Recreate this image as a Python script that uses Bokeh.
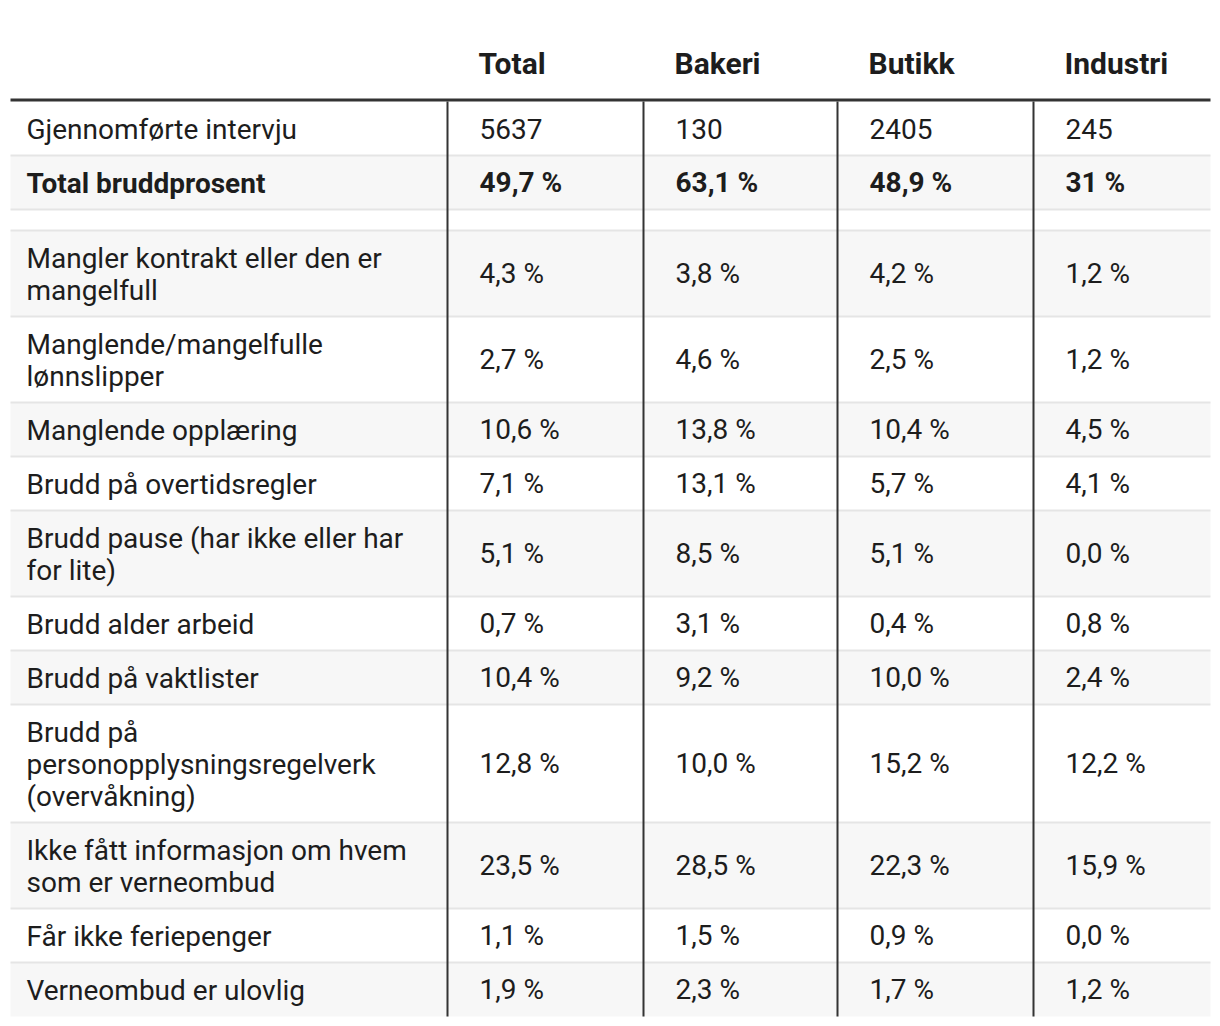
from bokeh.plotting import figure
from bokeh.models import Range1d, ColumnDataSource
from bokeh.core.properties import value
from bokeh.embed import file_html
from bokeh.resources import INLINE

# ---------------- data ----------------
columns = ["Total", "Bakeri", "Butikk", "Industri"]
interviews = [5637, 130, 2405, 245]
total_breach = [49.7, 63.1, 48.9, 31]

categories = [
    "Mangler kontrakt eller den er\nmangelfull",
    "Manglende/mangelfulle\nlønnslipper",
    "Manglende opplæring",
    "Brudd på overtidsregler",
    "Brudd pause (har ikke eller har\nfor lite)",
    "Brudd alder arbeid",
    "Brudd på vaktlister",
    "Brudd på\npersonopplysningsregelverk\n(overvåkning)",
    "Ikke fått informasjon om hvem\nsom er verneombud",
    "Får ikke feriepenger",
    "Verneombud er ulovlig",
]
total_vals = [4.3, 2.7, 10.6, 7.1, 5.1, 0.7, 10.4, 12.8, 23.5, 1.1, 1.9]
bakeri_vals = [3.8, 4.6, 13.8, 13.1, 8.5, 3.1, 9.2, 10.0, 28.5, 1.5, 2.3]
butikk_vals = [4.2, 2.5, 10.4, 5.7, 5.1, 0.4, 10.0, 15.2, 22.3, 0.9, 1.7]
industri_vals = [1.2, 1.2, 4.5, 4.1, 0.0, 0.8, 2.4, 12.2, 15.9, 0.0, 1.2]

# ---------------- layout ----------------
W, H = 1212, 1018
FONT = "Roboto"
TXT = "#1d1d1d"
BODY_SIZE = "28px"
HEAD_SIZE = "30px"
LINE_H = 32
PAD = 22
TABLE_L, TABLE_R = 10, 1210
SEPS = [447, 643, 837, 1033]
CELL_PAD = 32
LABEL_X = 26
HEAD_Y = 63
HEAD_LINE_Y = 99.5
TOP = 101
SPACER = 21

def fmt(v, dec=True):
    if dec:
        s = f"{v:.1f}"
    else:
        s = f"{v:g}"
    return s.replace(".", ",") + " %"

# build rows: (label lines, [cells], bold, is_spacer)
rows = []
rows.append((["Gjennomførte intervju"], [str(v) for v in interviews], False, False))
rows.append((["Total bruddprosent"], [fmt(v, False) for v in total_breach], True, False))
rows.append(([], [], False, True))
for i, cat in enumerate(categories):
    vals = [total_vals[i], bakeri_vals[i], butikk_vals[i], industri_vals[i]]
    rows.append((cat.split("\n"), [fmt(v) for v in vals], False, False))

p = figure(width=W, height=H, output_backend="svg", toolbar_location=None,
           x_range=Range1d(0, W), y_range=Range1d(H, 0),
           min_border=0, outline_line_color=None)
p.axis.visible = False
p.grid.visible = False
p.background_fill_color = "white"
p.border_fill_color = "white"

shade = dict(left=[], right=[], top=[], bottom=[])
sep_y = []
lab = dict(x=[], y=[], t=[])
lab_b = dict(x=[], y=[], t=[])
cell = dict(x=[], y=[], t=[])
cell_b = dict(x=[], y=[], t=[])

y = TOP
for ri, (lines, cells, bold, spacer) in enumerate(rows):
    h = SPACER if spacer else PAD + LINE_H * len(lines)
    if ri % 2 == 1 and not spacer:
        shade["left"].append(TABLE_L); shade["right"].append(TABLE_R)
        shade["top"].append(y); shade["bottom"].append(y + h)
    if not spacer:
        tgt_l = lab_b if bold else lab
        for li, ln in enumerate(lines):
            tgt_l["x"].append(LABEL_X)
            tgt_l["y"].append(y + PAD / 2 + LINE_H / 2 + LINE_H * li + 1)
            tgt_l["t"].append(ln)
        tgt_c = cell_b if bold else cell
        for ci, c in enumerate(cells):
            tgt_c["x"].append(SEPS[ci] + CELL_PAD)
            tgt_c["y"].append(y + h / 2)
            tgt_c["t"].append(c)
    y += h
    sep_y.append(y)
bottom = y
sep_y = sep_y[:-1]  # no rule under the last row

p.quad(left="left", right="right", top="top", bottom="bottom",
       source=ColumnDataSource(shade), fill_color="#f7f7f7", line_color=None)
p.segment(x0=[TABLE_L] * len(sep_y), x1=[TABLE_R] * len(sep_y), y0=sep_y, y1=sep_y,
          line_color="#e5e5e5", line_width=2)
p.segment(x0=SEPS, x1=SEPS, y0=[TOP] * len(SEPS), y1=[bottom] * len(SEPS),
          line_color="#333333", line_width=2)
p.segment(x0=[TABLE_L], x1=[TABLE_R], y0=[HEAD_LINE_Y], y1=[HEAD_LINE_Y],
          line_color="#333333", line_width=3)

def txt(d, size, style):
    p.text(x="x", y="y", text="t", source=ColumnDataSource(d),
           text_font=value(FONT), text_font_size=value(size), text_font_style=style,
           text_color=TXT, text_baseline="middle", text_align="left")

txt(lab, BODY_SIZE, "normal")
txt(lab_b, BODY_SIZE, "bold")
txt(cell, BODY_SIZE, "normal")
txt(cell_b, BODY_SIZE, "bold")

head = dict(x=[s + CELL_PAD - 1 for s in SEPS], y=[HEAD_Y] * 4, t=columns)
txt(head, HEAD_SIZE, "bold")

open("out.html", "w").write(file_html(p, INLINE))
